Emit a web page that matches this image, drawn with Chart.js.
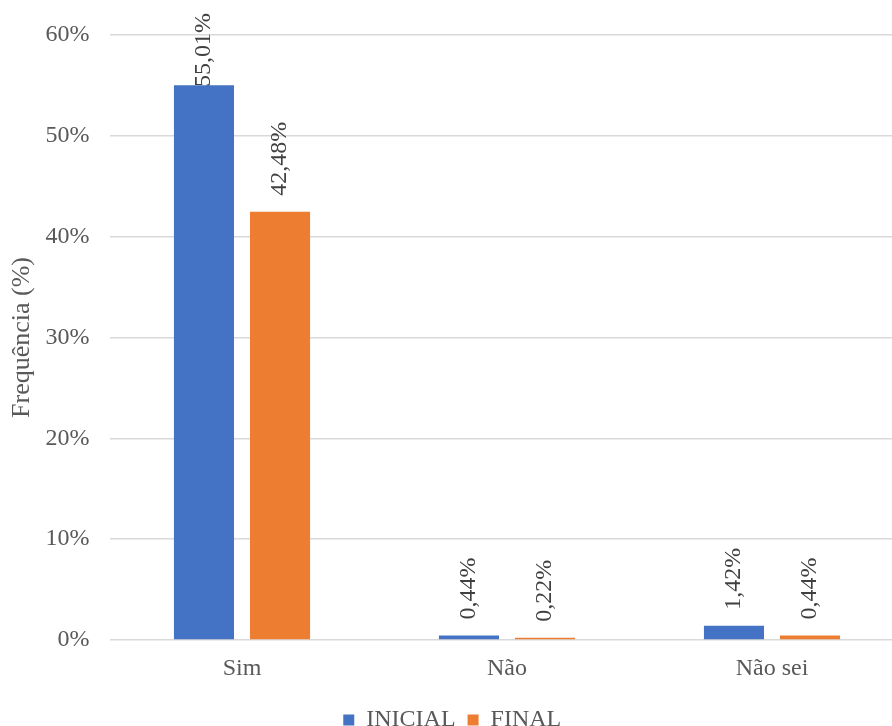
<!DOCTYPE html>
<html>
<head>
<meta charset="utf-8">
<script src="https://cdn.jsdelivr.net/npm/chart.js@4.4.1/dist/chart.umd.min.js"></script>
<style>
  html, body { margin: 0; padding: 0; background: #ffffff; overflow: hidden; }
  #wrap { position: relative; width: 906px; height: 742px; }
</style>
</head>
<body>
<div id="wrap"><canvas id="chart"></canvas></div>
<script>
// Respostas (frequência em %)
const categories = ['Sim', 'Não', 'Não sei'];
const inicialValues = [55.01, 0.44, 1.42];
const finalValues = [42.48, 0.22, 0.44];
const seriesNames = ['INICIAL', 'FINAL'];
const yTicks = [0, 10, 20, 30, 40, 50, 60];

const FONT = '"Liberation Serif", "Times New Roman", serif';

function fmt(v) {
  return v.toFixed(2).replace('.', ',') + '%';
}

// Vertical value labels above each bar
const barLabels = {
  id: 'barLabels',
  afterDatasetsDraw(chart) {
    const ctx = chart.ctx;
    ctx.save();
    ctx.font = '24px ' + FONT;
    ctx.fillStyle = '#404040';
    ctx.textAlign = 'left';
    ctx.textBaseline = 'middle';
    chart.data.datasets.forEach((ds, di) => {
      const meta = chart.getDatasetMeta(di);
      meta.data.forEach((bar, i) => {
        const text = fmt(ds.data[i]);
        const w = ctx.measureText(text).width;
        let start = bar.y - 16;
        if (start - w < chart.chartArea.top - 22) start = chart.chartArea.top - 22 + w;
        ctx.save();
        ctx.translate(bar.x, start);
        ctx.rotate(-Math.PI / 2);
        ctx.fillText(text, 0, 0);
        ctx.restore();
      });
    });
    ctx.restore();
  }
};

new Chart(document.getElementById('chart'), {
  type: 'bar',
  data: {
    labels: categories,
    datasets: [
      { label: seriesNames[0], data: inicialValues, backgroundColor: '#4472C4' },
      { label: seriesNames[1], data: finalValues, backgroundColor: '#ED7D31' }
    ]
  },
  options: {
    responsive: true,
    maintainAspectRatio: false,
    animation: false,
    events: [],
    layout: { padding: { top: 35, right: 1.5, left: 0, bottom: 0 } },
    datasets: {
      bar: { categoryPercentage: 0.574, barPercentage: 0.79 }
    },
    plugins: {
      tooltip: { enabled: false },
      legend: {
        position: 'bottom',
        labels: {
          font: { family: FONT, size: 24 },
          color: '#595959',
          boxWidth: 11,
          boxHeight: 11,
          padding: 12
        }
      }
    },
    scales: {
      x: {
        grid: { display: false },
        border: { display: false },
        ticks: { font: { family: FONT, size: 24 }, color: '#595959', padding: 6 },
        afterFit(scale) { scale.height = 56; }
      },
      y: {
        min: 0,
        max: 60,
        afterBuildTicks(scale) { scale.ticks = yTicks.map(v => ({ value: v })); },
        grid: { color: '#d9d9d9', lineWidth: 1.5, drawTicks: false },
        border: { display: false },
        ticks: {
          font: { family: FONT, size: 24 },
          color: '#595959',
          padding: 20,
          callback: v => v + '%'
        },
        title: {
          display: true,
          text: 'Frequência (%)',
          font: { family: FONT, size: 26 },
          color: '#595959',
          padding: { top: 7, bottom: 0 }
        },
        afterFit(scale) { scale.width = 109.5; }
      }
    }
  },
  plugins: [barLabels]
});
</script>
</body>
</html>
